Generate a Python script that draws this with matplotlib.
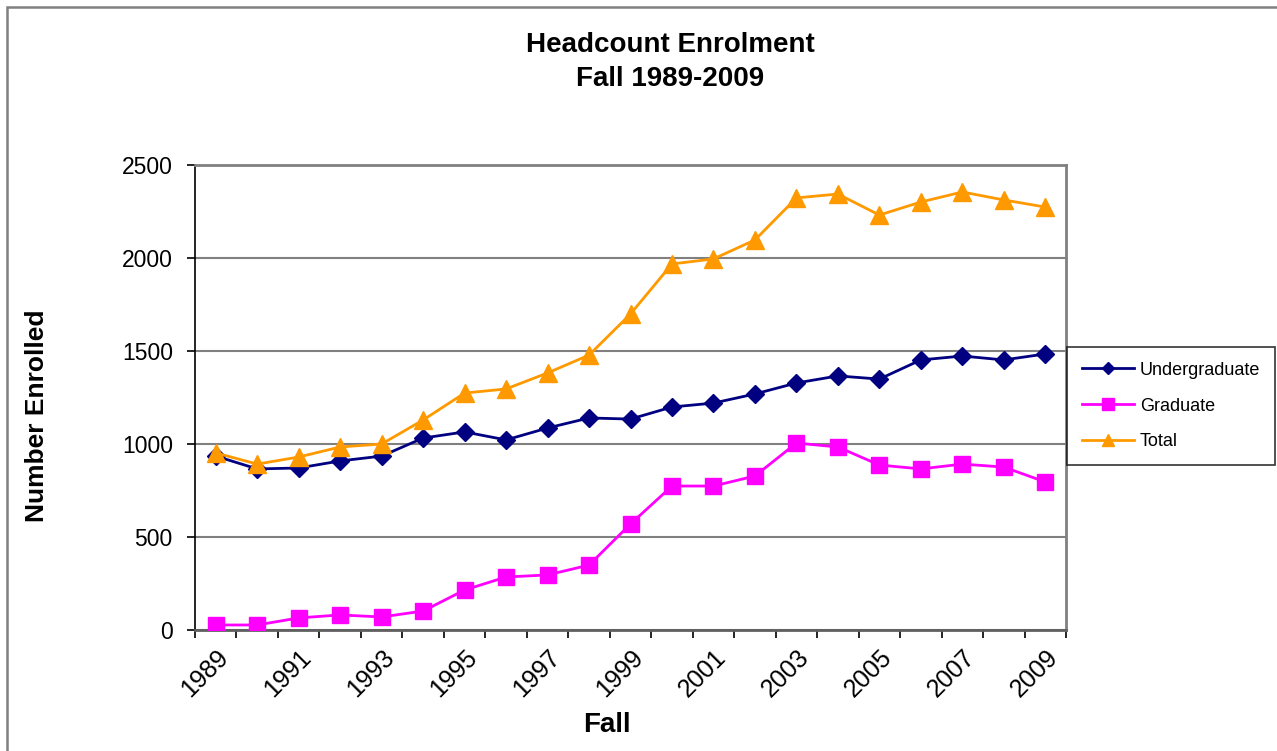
import matplotlib.pyplot as plt
from matplotlib.lines import Line2D
from matplotlib.patches import Rectangle

plt.rcParams['font.family'] = ['Liberation Sans', 'DejaVu Sans']

# DATA
years = [str(y) for y in range(1989, 2010)]
undergraduate = [935, 866, 871, 909, 935, 1032, 1065, 1022, 1086, 1140, 1134,
                 1199, 1220, 1269, 1328, 1366, 1349, 1452, 1473, 1452, 1484]
graduate = [27, 27, 65, 81, 70, 102, 215, 285, 296, 349, 570,
            774, 774, 828, 1005, 984, 887, 866, 892, 876, 796]
total = [952, 892, 930, 984, 1000, 1129, 1274, 1296, 1382, 1478, 1699,
         1968, 1995, 2097, 2323, 2344, 2231, 2301, 2355, 2312, 2274]
series_names = ['Undergraduate', 'Graduate', 'Total']
y_ticks = [0, 500, 1000, 1500, 2000, 2500]

W, H = 1277, 751
fig = plt.figure(figsize=(W / 100, H / 100), dpi=100)
fig.patch.set_facecolor('white')

# outer chart border (only top/left visible in the reference)
fig.patches.append(Rectangle((7 / W, -0.1), 1.2, 1.1 - 7 / H,
                             transform=fig.transFigure, fill=False,
                             edgecolor='#808080', linewidth=1.8))

ax = fig.add_axes([195 / W, 1 - 630 / H, (1066 - 195) / W, (630 - 165) / H])
x = list(range(len(years)))

ax.plot(x, undergraduate, color='#000080', lw=2.0, marker='D', ms=9.5,
        zorder=4)
ax.plot(x, graduate, color='#FF00FF', lw=2.0, marker='s', ms=12,
        zorder=3)
ax.plot(x, total, color='#FF9900', lw=2.0, marker='^', ms=13,
        zorder=5)

ax.set_xlim(-0.5, len(years) - 0.5)
ax.set_ylim(0, 2500)
ax.set_yticks(y_ticks)
ax.yaxis.grid(True, color='#808080', lw=1.5)
ax.set_axisbelow(True)

# category labels every second year, tick marks between categories
ax.set_xticks(x[::2])
ax.set_xticklabels(years[::2], rotation=45, ha='right', rotation_mode='anchor')
ax.set_xticks([i - 0.5 for i in range(len(years) + 1)], minor=True)
ax.tick_params(axis='x', which='major', length=0, pad=11, labelsize=18)
ax.tick_params(axis='x', which='minor', length=6, width=1.2,
               direction='out', color='#000000')
ax.tick_params(axis='y', length=6, width=1.2, direction='out',
               pad=10, labelsize=16.5)

for side in ['top', 'right']:
    ax.spines[side].set_color('#808080')
    ax.spines[side].set_linewidth(2)
ax.spines['left'].set_color('#000000')
ax.spines['left'].set_linewidth(1.2)
ax.spines['bottom'].set_color('#606060')
ax.spines['bottom'].set_linewidth(2)

fig.text(670 / W, 1 - 62 / H, 'Headcount Enrolment\nFall 1989-2009',
         ha='center', va='center', fontsize=20, fontweight='bold',
         linespacing=1.35)
fig.text(37 / W, 1 - 416 / H, 'Number Enrolled', rotation=90,
         ha='center', va='center', fontsize=19, fontweight='bold')
fig.text(607 / W, 1 - 725 / H, 'Fall', ha='center', va='center',
         fontsize=20, fontweight='bold')

handles = [
    Line2D([], [], color='#000080', lw=2, marker='D', ms=6),
    Line2D([], [], color='#FF00FF', lw=2, marker='s', ms=8),
    Line2D([], [], color='#FF9900', lw=2, marker='^', ms=8),
]
leg = fig.legend(handles, series_names, loc='center',
                 bbox_to_anchor=(1171 / W, 1 - 406 / H),
                 fontsize=13, frameon=True, fancybox=False,
                 edgecolor='#000000', handlelength=2.9, handletextpad=0.3,
                 labelspacing=1.05, borderpad=0.8, borderaxespad=0)
leg.get_frame().set_linewidth(1.2)

fig.savefig('out.png', dpi=100, facecolor='white')
